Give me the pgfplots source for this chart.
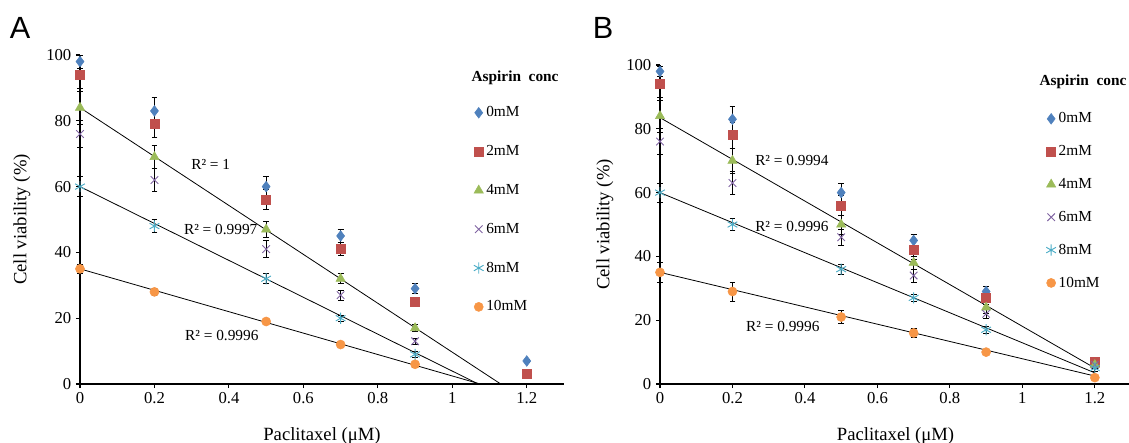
\documentclass[border=0pt]{standalone}
\usepackage{fontspec}
\setmainfont{Liberation Serif}
\setsansfont{Liberation Sans}
\usepackage{pgfplots}
\pgfplotsset{compat=1.18}

\definecolor{cA}{HTML}{4F81BD}
\definecolor{cB}{HTML}{C0504D}
\definecolor{cC}{HTML}{9BBB59}
\definecolor{cD}{HTML}{8064A2}
\definecolor{cE}{HTML}{4BACC6}
\definecolor{cF}{HTML}{F79646}

\tikzset{rlab/.style={font=\fontsize{11.5}{12}\selectfont}}

\pgfplotsset{
  panel/.style={
    scale only axis,
    xmin=0, xmax=1.3, ymin=0, ymax=100,
    xtick={0,0.2,0.4,0.6,0.8,1,1.2},
    ytick={0,20,40,60,80,100},
    axis x line=bottom, axis y line=left,
    axis line style={-, line width=0.8pt},
    tick align=outside, major tick length=3pt,
    tick style={black, line width=0.8pt},
    /pgf/number format/assume math mode=true,
    tick label style={font=\fontsize{12.5}{13}\selectfont},
    xlabel={Paclitaxel (μM)},
    ylabel={Cell viability (\%)},
    label style={font=\fontsize{14}{16}\selectfont},
    clip=false,
    legend style={draw=none, fill=none, anchor=north west,
      font=\fontsize{11.5}{12}\selectfont, cells={anchor=west}},
  },
  pt/.style={only marks,
    error bars/y dir=both, error bars/y explicit,
    error bars/error bar style={black, line width=0.6pt},
    error bars/error mark options={black, rotate=90, mark size=2.2pt, line width=0.6pt}},
  trend/.style={black, line width=0.6pt, no marks, forget plot},
}

\begin{document}
\begin{tikzpicture}
\useasboundingbox (0,0) rectangle (846.75pt,-332.25pt);

% ---------- panel A ----------
\begin{axis}[panel, at={(60pt,-288pt)}, anchor=south west,
    width=363pt, height=246.75pt,
    xlabel style={at={(axis description cs:0.5,-0.158)}, anchor=center},
    ylabel style={at={(axis description cs:-0.12,0.5)}, anchor=center},
    legend style={at={(0.805,0.86)}, row sep=16pt}]
\addplot[trend] coordinates {(0,84) (1.13,0)};
\addplot[trend] coordinates {(0,60) (1.07,0)};
\addplot[trend] coordinates {(0,35) (1.075,0)};
\addplot[pt, mark=diamond*, mark size=4pt, color=cA]
  table[row sep=\\, y error=e] {x y e\\ 0 98 2\\ 0.2 83 4\\ 0.5 60 3\\ 0.7 45 2\\ 0.9 29 1.5\\ 1.2 7 0.5\\};
\addlegendentry{0mM}
\addplot[pt, mark=square*, mark size=3.4pt, color=cB]
  table[row sep=\\, y error=e] {x y e\\ 0 94 4\\ 0.2 79 4\\ 0.5 56 3\\ 0.7 41 2\\ 0.9 25 1\\ 1.2 3 0.5\\};
\addlegendentry{2mM}
\addplot[pt, mark=triangle*, mark size=4pt, color=cC]
  table[row sep=\\, y error=e] {x y e\\ 0 84 5\\ 0.2 69 3.5\\ 0.5 47 2.5\\ 0.7 32 1.5\\ 0.9 17 1\\};
\addlegendentry{4mM}
\addplot[pt, mark=x, mark size=4pt, color=cD, mark options={line width=0.7pt}]
  table[row sep=\\, y error=e] {x y e\\ 0 76 4\\ 0.2 62 3.5\\ 0.5 41 2.5\\ 0.7 27 1.5\\ 0.9 13 1\\};
\addlegendentry{6mM}
\addplot[pt, mark=asterisk, mark size=4.2pt, color=cE, mark options={line width=0.7pt}]
  table[row sep=\\, y error=e] {x y e\\ 0 60 3\\ 0.2 48 2\\ 0.5 32 1.5\\ 0.7 20 1\\ 0.9 9 1\\};
\addlegendentry{8mM}
\addplot[pt, mark=*, mark size=3.4pt, color=cF]
  table[row sep=\\, y error=e] {x y e\\ 0 35 1.5\\ 0.2 28 1\\ 0.5 19 0.5\\ 0.7 12 0.5\\ 0.9 6 1\\};
\addlegendentry{10mM}
\node[rlab] at (axis cs:0.351,66.6) {R² = 1};
\node[rlab] at (axis cs:0.378,47.1) {R² = 0.9997};
\node[rlab] at (axis cs:0.381,14.6) {R² = 0.9996};
\node[rlab] at (axis description cs:0.899,0.930) {\textbf{Aspirin\ \ conc}};
\end{axis}

% ---------- panel B ----------
\begin{axis}[panel, at={(495pt,-288pt)}, anchor=south west,
    width=353.3pt, height=239.25pt,
    xlabel style={at={(axis description cs:0.5,-0.163)}, anchor=center},
    ylabel style={at={(axis description cs:-0.117,0.5)}, anchor=center},
    legend style={at={(0.811,0.868)}, row sep=11.5pt}]
\addplot[trend] coordinates {(0,83.5) (1.2,5)};
\addplot[trend] coordinates {(0,60) (1.2,3.5)};
\addplot[trend] coordinates {(0,35) (1.2,2.5)};
\addplot[pt, mark=diamond*, mark size=4pt, color=cA]
  table[row sep=\\, y error=e] {x y e\\ 0 98 1.5\\ 0.2 83 4\\ 0.5 60 3\\ 0.7 45 2\\ 0.9 29 1.5\\ 1.2 6 1\\};
\addlegendentry{0mM}
\addplot[pt, mark=square*, mark size=3.4pt, color=cB]
  table[row sep=\\, y error=e] {x y e\\ 0 94 4\\ 0.2 78 4\\ 0.5 56 3\\ 0.7 42 3\\ 0.9 27 2\\ 1.2 7 1\\};
\addlegendentry{2mM}
\addplot[pt, mark=triangle*, mark size=4pt, color=cC]
  table[row sep=\\, y error=e] {x y e\\ 0 84 5\\ 0.2 70 4\\ 0.5 50 3\\ 0.7 38 2\\ 0.9 24 2\\ 1.2 6 1\\};
\addlegendentry{4mM}
\addplot[pt, mark=x, mark size=4pt, color=cD, mark options={line width=0.7pt}]
  table[row sep=\\, y error=e] {x y e\\ 0 76 4\\ 0.2 63 3.5\\ 0.5 46 2.5\\ 0.7 34 2\\ 0.9 22 1.5\\ 1.2 6 1\\};
\addlegendentry{6mM}
\addplot[pt, mark=asterisk, mark size=4.2pt, color=cE, mark options={line width=0.7pt}]
  table[row sep=\\, y error=e] {x y e\\ 0 60 3\\ 0.2 50 2\\ 0.5 36 1.5\\ 0.7 27 1\\ 0.9 17 1\\ 1.2 5 1\\};
\addlegendentry{8mM}
\addplot[pt, mark=*, mark size=3.4pt, color=cF]
  table[row sep=\\, y error=e] {x y e\\ 0 35 3\\ 0.2 29 3\\ 0.5 21 2\\ 0.7 16 1.5\\ 0.9 10 0.5\\ 1.2 2 0.5\\};
\addlegendentry{10mM}
\node[rlab] at (axis cs:0.364,70.2) {R² = 0.9994};
\node[rlab] at (axis cs:0.364,49.5) {R² = 0.9996};
\node[rlab] at (axis cs:0.339,17.9) {R² = 0.9996};
\node[rlab] at (axis description cs:0.898,0.947) {\textbf{Aspirin\ \ conc}};
\end{axis}

\node[font=\sffamily\fontsize{23}{23}\selectfont] at (15pt,-21pt) {A};
\node[font=\sffamily\fontsize{23}{23}\selectfont] at (452.25pt,-21pt) {B};
\end{tikzpicture}
\end{document}
